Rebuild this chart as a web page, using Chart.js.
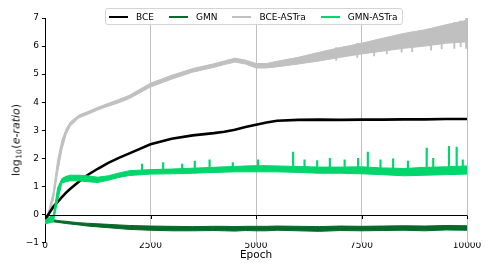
<!DOCTYPE html>
<html>
<head>
<meta charset="utf-8">
<script src="https://cdn.jsdelivr.net/npm/chart.js@4/dist/chart.umd.min.js"></script>
<style>
  body { margin: 0; background: #fff; font-family: "DejaVu Sans", sans-serif; }
  #wrap { position: relative; width: 491px; height: 273px; }
  #legend {
    position: absolute; left: 105px; top: 8px; height: 17px;
    border: 1px solid #d4d4d4; border-radius: 3px; background: rgba(255,255,255,0.85);
    display: flex; align-items: center; padding: 0 4px 0 3px;
    font-size: 9px; color: #000; box-sizing: border-box;
  }
  #legend .item { display: flex; align-items: center; margin-right: 15px; }
  #legend .item:last-child { margin-right: 0; }
  #legend .sw { width: 19px; height: 2px; margin-right: 8px; }
  #ylabel {
    position: absolute; left: 17px; top: 140px; white-space: nowrap;
    transform: translate(-50%, -50%) rotate(-90deg);
    font-size: 11px; font-weight: 400; color: #111; line-height: 14px;
  }
  #ylabel .sub { font-size: 7.5px; position: relative; top: 2px; margin: 0 0.5px; }
</style>
</head>
<body>
<div id="wrap">
  <canvas id="c" width="491" height="273"></canvas>
  <div id="legend"></div>
  <div id="ylabel">log<span class="sub">10</span>(<i>e-ratio</i>)</div>
</div>
<script>
// series colours
const C_BCE = '#000000';
const C_GMN = '#086a2a';
const C_BCE_ASTRA = '#c0c0c0';
const C_GMN_ASTRA = '#00d66b';

// sampled epochs (shared by all envelopes)
const epochs = [0, 100, 200, 300, 400, 500, 600, 800, 1000, 1250, 1500, 1750, 2000, 2500, 3000, 3500,
  4000, 4250, 4500, 4750, 5000, 5250, 5500, 6000, 6500, 7000, 7500, 8000, 8500, 9000, 9500, 10000];

// BCE (thin band, drawn as one thick line)
const bce = [-0.2, 0.05, 0.28, 0.45, 0.62, 0.78, 0.92, 1.17, 1.4, 1.63, 1.84, 2.02, 2.18, 2.5, 2.7, 2.82,
  2.9, 2.95, 3.02, 3.12, 3.2, 3.28, 3.34, 3.37, 3.38, 3.37, 3.38, 3.38, 3.39, 3.39, 3.4, 3.4];

// GMN noise band
const gmnUpper = [-0.17, -0.18, -0.19, -0.21, -0.23, -0.24, -0.26, -0.29, -0.31, -0.33, -0.35, -0.37, -0.39, -0.41, -0.42, -0.43,
  -0.42, -0.42, -0.43, -0.42, -0.42, -0.42, -0.41, -0.42, -0.43, -0.41, -0.42, -0.41, -0.4, -0.41, -0.39, -0.4];
const gmnLower = [-0.28, -0.27, -0.26, -0.28, -0.3, -0.32, -0.34, -0.37, -0.41, -0.44, -0.47, -0.5, -0.53, -0.56, -0.58, -0.58,
  -0.57, -0.58, -0.59, -0.57, -0.58, -0.58, -0.56, -0.58, -0.6, -0.57, -0.58, -0.57, -0.56, -0.58, -0.55, -0.56];

// BCE-ASTra noise band
const bceAstraUpper = [-0.2, 0.2, 0.85, 1.95, 2.65, 3.05, 3.3, 3.54, 3.66, 3.82, 3.96, 4.1, 4.25, 4.68, 4.96, 5.2,
  5.37, 5.47, 5.57, 5.5, 5.38, 5.38, 5.46, 5.6, 5.78, 5.95, 6.1, 6.28, 6.45, 6.58, 6.76, 6.92];
const bceAstraLower = [-0.3, 0.0, 0.55, 1.5, 2.3, 2.85, 3.15, 3.44, 3.56, 3.72, 3.86, 3.98, 4.13, 4.54, 4.82, 5.07,
  5.24, 5.34, 5.43, 5.36, 5.22, 5.22, 5.26, 5.36, 5.47, 5.6, 5.72, 5.82, 5.92, 6.0, 6.1, 6.15];
// downward dips and upward flicks of BCE-ASTra late in training
const bceAstraDipEpochs = [6900, 7400, 7800, 8100, 8450, 8700, 9150, 9400, 9700, 9850, 9980];
const bceAstraDipLows = [5.5, 5.6, 5.65, 5.72, 5.78, 5.8, 5.85, 5.9, 5.92, 5.98, 5.92];
const bceAstraDipHighs = [5.95, 6.1, 6.2, 6.3, 6.4, 6.5, 6.6, 6.7, 6.85, 6.9, 7.0];

// GMN-ASTra noise band
const gmnAstraUpper = [-0.2, -0.1, 0.0, 0.95, 1.28, 1.36, 1.4, 1.4, 1.38, 1.33, 1.38, 1.48, 1.56, 1.6, 1.62, 1.65,
  1.68, 1.7, 1.71, 1.73, 1.74, 1.74, 1.73, 1.71, 1.69, 1.69, 1.7, 1.66, 1.64, 1.68, 1.7, 1.73];
const gmnAstraLower = [-0.33, -0.3, -0.25, 0.5, 1.12, 1.17, 1.2, 1.2, 1.17, 1.14, 1.22, 1.32, 1.39, 1.44, 1.45, 1.47,
  1.5, 1.51, 1.52, 1.52, 1.52, 1.52, 1.52, 1.5, 1.47, 1.47, 1.45, 1.42, 1.38, 1.4, 1.42, 1.44];
// upward spikes of GMN-ASTra
const gmnAstraSpikeEpochs = [2300, 2800, 3250, 3550, 3900, 4450, 5050, 5880, 6150, 6450, 6750, 7100,
  7420, 7650, 7950, 8250, 8600, 9045, 9200, 9573, 9755, 9900];
const gmnAstraSpikeTops = [1.8, 1.85, 1.8, 1.9, 1.95, 1.85, 1.95, 2.22, 1.95, 1.92, 2.0, 1.95,
  2.0, 2.22, 1.95, 1.98, 1.9, 2.37, 2.0, 2.43, 2.4, 1.95];
const GMN_ASTRA_SPIKE_FROM = 1.58;

// axes
const xTicks = [0, 2500, 5000, 7500, 10000];
const yTicks = [-1, 0, 1, 2, 3, 4, 5, 6, 7];

const seriesNames = ['BCE', 'GMN', 'BCE-ASTra', 'GMN-ASTra'];
const seriesColors = [C_BCE, C_GMN, C_BCE_ASTRA, C_GMN_ASTRA];

function pts(xs, ys) {
  return xs.map((x, i) => ({ x, y: ys[i] }));
}
function ranges(xs, lows, highs) {
  return xs.map((x, i) => ({ x, y: [lows[i], Array.isArray(highs) ? highs[i] : highs] }));
}

function band(label, upper, lower, color, order) {
  return [
    { label, data: pts(epochs, upper), borderColor: color, backgroundColor: color,
      borderWidth: 1, pointRadius: 0, fill: '+1', order },
    { label: '', data: pts(epochs, lower), borderColor: color, backgroundColor: color,
      borderWidth: 1, pointRadius: 0, fill: false, order },
  ];
}

const datasets = [
  { label: 'BCE', data: pts(epochs, bce), borderColor: C_BCE, borderWidth: 2.6,
    pointRadius: 0, fill: false, order: 3 },
  ...band('GMN', gmnUpper, gmnLower, C_GMN, 4),
  ...band('BCE-ASTra', bceAstraUpper, bceAstraLower, C_BCE_ASTRA, 5),
  { type: 'bar', label: '', data: ranges(bceAstraDipEpochs, bceAstraDipLows, bceAstraDipHighs),
    backgroundColor: C_BCE_ASTRA, barThickness: 1.2, grouped: false, order: 5 },
  ...band('GMN-ASTra', gmnAstraUpper, gmnAstraLower, C_GMN_ASTRA, 1),
  { type: 'bar', label: '', data: ranges(gmnAstraSpikeEpochs, gmnAstraSpikeTops, GMN_ASTRA_SPIKE_FROM),
    backgroundColor: C_GMN_ASTRA, barThickness: 1.5, grouped: false, order: 1 },
];

// html legend
const legendEl = document.getElementById('legend');
seriesNames.forEach((name, i) => {
  const item = document.createElement('div');
  item.className = 'item';
  item.innerHTML = `<span class="sw" style="background:${seriesColors[i]}"></span><span>${name}</span>`;
  legendEl.appendChild(item);
});

// zero line with small x ticks, drawn above the data
const zeroAxis = {
  id: 'zeroAxis',
  afterDatasetsDraw(chart) {
    const { ctx, chartArea, scales: { x, y } } = chart;
    const y0 = Math.round(y.getPixelForValue(0)) + 0.5;
    ctx.save();
    ctx.strokeStyle = '#000';
    ctx.lineWidth = 1;
    ctx.beginPath();
    ctx.moveTo(chartArea.left, y0);
    ctx.lineTo(chartArea.right, y0);
    xTicks.forEach((v) => {
      const px = Math.round(x.getPixelForValue(v)) + 0.5;
      ctx.moveTo(px, y0);
      ctx.lineTo(px, y0 + 3.5);
    });
    ctx.stroke();
    ctx.restore();
  },
};

const FONT = { family: 'DejaVu Sans', size: 9 };

new Chart(document.getElementById('c'), {
  type: 'line',
  data: { datasets },
  plugins: [zeroAxis],
  options: {
    responsive: false,
    animation: false,
    layout: { padding: { left: 0, right: 24, top: 18, bottom: 11 } },
    plugins: { legend: { display: false }, tooltip: { enabled: false } },
    elements: { line: { tension: 0 } },
    scales: {
      x: {
        type: 'linear',
        min: 0,
        max: 10000,
        offset: false,
        afterBuildTicks: (s) => { s.ticks = xTicks.map((v) => ({ value: v })); },
        ticks: { color: '#000', font: FONT, padding: -2, maxRotation: 0, callback: (v) => String(v) },
        grid: {
          offset: false,
          color: (c) => (c.tick && c.tick.value === 0 ? 'rgba(0,0,0,0)' : '#b8b8b8'),
          lineWidth: 0.9,
          drawTicks: false,
        },
        border: { display: false },
        title: { display: true, text: 'Epoch', color: '#000',
          font: { family: 'DejaVu Sans', size: 10.5 }, padding: { top: 0, bottom: 0 } },
      },
      y: {
        type: 'linear',
        min: -1,
        max: 7,
        afterBuildTicks: (s) => { s.ticks = yTicks.map((v) => ({ value: v })); },
        afterFit: (s) => { s.width = 45; },
        ticks: {
          color: '#000', font: FONT, padding: 3,
          callback: (v) => (v < 0 ? '\u2212' + Math.abs(v) : String(v)),
        },
        grid: { drawOnChartArea: false, tickLength: 3, tickColor: '#000', color: '#000' },
        border: { display: true, color: '#000', width: 1 },
      },
    },
  },
});
</script>
</body>
</html>
